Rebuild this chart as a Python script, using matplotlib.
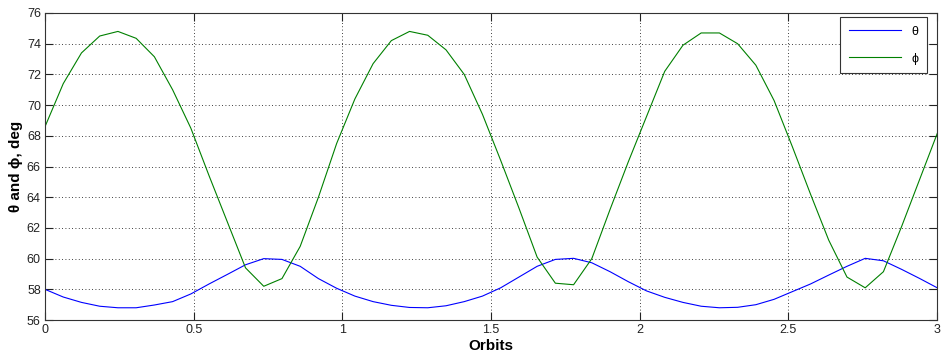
import matplotlib.pyplot as plt
import numpy as np
from matplotlib.ticker import FormatStrFormatter

plt.rcParams['font.family'] = ['Liberation Sans', 'DejaVu Sans']

# sample spacing in orbits
dt = 0.0613
orbits = np.arange(50) * dt

theta = [58.0, 57.5, 57.15, 56.9, 56.8, 56.8, 56.98, 57.2, 57.7, 58.35,
         58.97, 59.6, 60.0, 59.95, 59.5, 58.7, 58.07, 57.56, 57.2, 56.96,
         56.82, 56.8, 56.93, 57.2, 57.56, 58.1, 58.8, 59.5, 59.95, 60.02,
         59.73, 59.15, 58.5, 57.9, 57.48, 57.15, 56.9, 56.8, 56.83, 57.0,
         57.35, 57.85, 58.35, 58.93, 59.5, 60.02, 59.86, 59.3, 58.7, 58.07]

phi = [68.6, 71.4, 73.4, 74.5, 74.8, 74.35, 73.15, 71.0, 68.5, 65.4,
       62.4, 59.4, 58.2, 58.7, 60.8, 64.0, 67.5, 70.4, 72.7, 74.2,
       74.8, 74.55, 73.6, 72.0, 69.4, 66.4, 63.3, 60.1, 58.4, 58.3,
       60.0, 63.2, 66.3, 69.25, 72.2, 73.9, 74.7, 74.7, 74.0, 72.6,
       70.3, 67.3, 64.2, 61.2, 58.8, 58.1, 59.15, 62.1, 65.2, 68.3]

fig = plt.figure(figsize=(9.42, 3.58), dpi=100)
ax = fig.add_axes([0.0478, 0.106, 0.9469, 0.8577])

ax.plot(orbits, theta, color='#0000ff', lw=0.8, label='\u03b8')
ax.plot(orbits, phi, color='#008000', lw=0.8, label='\u03d5')

ax.set_xlim(0, 3)
ax.set_ylim(56, 76)
ax.set_xticks(np.arange(0, 3.01, 0.5))
ax.set_yticks(np.arange(56, 77, 2))
ax.xaxis.set_major_formatter(FormatStrFormatter('%g'))

ax.grid(True, color='black', linestyle=(0, (1, 3)), lw=0.6)
ax.tick_params(direction='in', length=6, width=0.8, top=True, right=True,
               labelsize=9, colors='#222222', pad=3)
for s in ax.spines.values():
    s.set_linewidth(0.8)
    s.set_color('#333333')

ax.set_xlabel('Orbits', fontsize=11, fontweight='bold', labelpad=2)
ax.set_ylabel('\u03b8 and \u03d5, deg', fontsize=11, fontweight='bold', labelpad=3)

leg = ax.legend(loc='upper right', bbox_to_anchor=(0.989, 0.987),
                fontsize=9, fancybox=False, framealpha=1,
                edgecolor='#333333', handlelength=4.2, borderpad=0.7,
                labelspacing=1.2, borderaxespad=0)
leg.get_frame().set_linewidth(0.8)

plt.savefig('out.png', dpi=100)
